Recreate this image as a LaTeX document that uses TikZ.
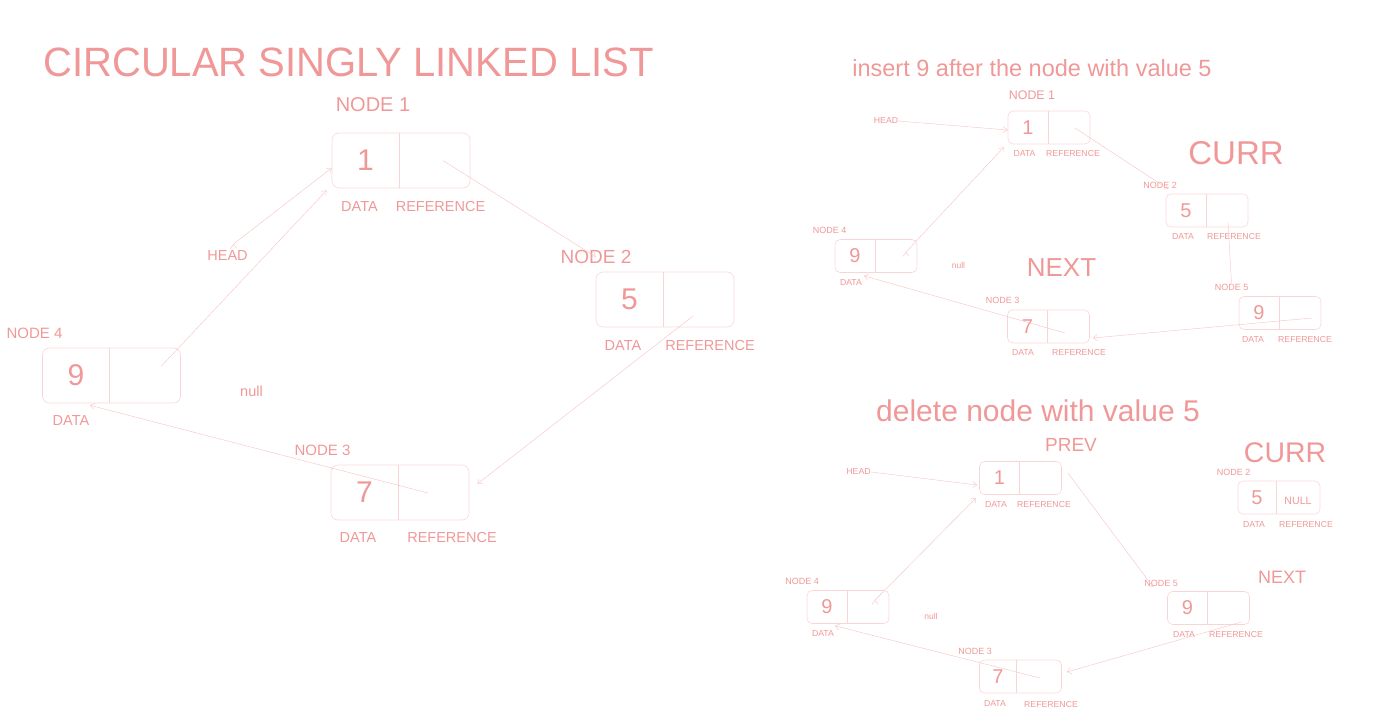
\documentclass[tikz,border=0pt]{standalone}
\usepackage{fontspec}
\setmainfont{Liberation Sans}
\usetikzlibrary{arrows.meta,positioning}
\definecolor{txtc}{RGB}{240,152,152}
\definecolor{boxc}{RGB}{249,214,214}
\definecolor{linec}{RGB}{248,198,198}

\begin{document}
\begin{tikzpicture}[x=1pt,y=-1pt,
  fs/.style={font=\fontsize{#1}{#1}\selectfont},
  lbl/.style={text=txtc,inner sep=0pt},
  divider/.style={path picture={\draw[boxc,line width=.6pt]
      ([xshift=#1]path picture bounding box.north west) --
      ([xshift=#1]path picture bounding box.south west);}},
  bigbox/.style={draw=boxc,line width=.6pt,rounded corners=7pt,
    minimum width=138pt,minimum height=55pt,inner sep=0pt,
    text=txtc,fs=30,divider=67pt},
  smallbox/.style={draw=boxc,line width=.6pt,rounded corners=5pt,
    minimum width=82pt,minimum height=33pt,inner sep=0pt,
    text=txtc,fs=20,divider=#1},
  smallbox/.default=40pt,
  link/.style={draw=linec,line width=.45pt,-{Straight Barb[length=4pt,width=6pt]}}]
  \useasboundingbox (0,0) rectangle (1389,727);

  % circular singly linked list
  \node[lbl,fs=41,xscale=.975] (title) at (348.5,62.5) {CIRCULAR SINGLY LINKED LIST};
  \node[bigbox] (a1) at (401,160.5) {\makebox[67pt]{1}\makebox[71pt]{}};
  \node[bigbox] (a2) at (665,299.5) {\makebox[67pt]{5}\makebox[71pt]{}};
  \node[bigbox] (a4) at (111.5,375.5) {\makebox[67pt]{9}\makebox[71pt]{}};
  \node[bigbox] (a3) at (400,492.5) {\makebox[67pt]{7}\makebox[71pt]{}};
  \node[lbl,fs=20] (a1n) at (373,105) {NODE 1};
  \node[lbl,fs=19] (a2n) at (596,257) {NODE 2};
  \node[lbl,fs=15] (a4n) at (34.5,333) {NODE 4};
  \node[lbl,fs=15] (a3n) at (322.5,450) {NODE 3};
  \node[lbl,fs=14.5] (a1d) at (359.5,207) {DATA};
  \node[lbl,fs=14.5] (a1r) at (440.5,207) {REFERENCE};
  \node[lbl,fs=14.5] (a2d) at (623,346) {DATA};
  \node[lbl,fs=14.5] (a2r) at (710,346) {REFERENCE};
  \node[lbl,fs=14.5] (a4d) at (71,421) {DATA};
  \node[lbl,fs=14.5] (a3d) at (358,538) {DATA};
  \node[lbl,fs=14.5] (a3r) at (452,538) {REFERENCE};
  \node[lbl,fs=14.5] (ahead) at (227.5,256) {HEAD};
  \node[lbl,fs=14.5] (anull) at (251.5,391) {null};
  \path[link]
  ([shift={(42,0)}]a1.center) edge (a2n.center)
  ([shift={(28,16.5)}]a2.center) edge ([shift={(8,-8.5)}]a3.east)
  ([shift={(28,0.5)}]a3.center) edge ([shift={(-21.5,2)}]a4.south)
  ([shift={(50,-9.5)}]a4.center) edge ([shift={(-5,2)}]a1.south west)
  ([shift={(6,-12)}]ahead.center) edge ([shift={(0,7.5)}]a1.west);

  % insert 9 after the node with value 5
  \node[lbl,fs=23.5] (ins) at (1032,68) {insert 9 after the node with value 5};
  \node[smallbox] (t1) at (1049,127.5) {\makebox[40pt]{1}\makebox[42pt]{}};
  \node[smallbox] (t2) at (1207,210.5) {\makebox[40pt]{5}\makebox[42pt]{}};
  \node[smallbox] (t4) at (876,256) {\makebox[40pt]{9}\makebox[42pt]{}};
  \node[smallbox] (t5) at (1280,313) {\makebox[40pt]{9}\makebox[42pt]{}};
  \node[smallbox] (t3) at (1048.5,326.5) {\makebox[40pt]{7}\makebox[42pt]{}};
  \node[lbl,fs=12.4] (t1n) at (1032,95) {NODE 1};
  \node[lbl,fs=9] (t2n) at (1160,185) {NODE 2};
  \node[lbl,fs=9] (t4n) at (829.5,230) {NODE 4};
  \node[lbl,fs=9] (t5n) at (1231.5,287) {NODE 5};
  \node[lbl,fs=9] (t3n) at (1002.5,300) {NODE 3};
  \node[lbl,fs=8.7] (t1d) at (1024.5,154) {DATA};
  \node[lbl,fs=8.7] (t1r) at (1073,154) {REFERENCE};
  \node[lbl,fs=8.7] (t2d) at (1183,237) {DATA};
  \node[lbl,fs=8.7] (t2r) at (1234,237) {REFERENCE};
  \node[lbl,fs=8.7] (t4d) at (851,283) {DATA};
  \node[lbl,fs=8.7] (t5d) at (1253,340) {DATA};
  \node[lbl,fs=8.7] (t5r) at (1305,340) {REFERENCE};
  \node[lbl,fs=8.7] (t3d) at (1023,353) {DATA};
  \node[lbl,fs=8.7] (t3r) at (1079,353) {REFERENCE};
  \node[lbl,fs=8.7] (thead) at (886,121) {HEAD};
  \node[lbl,fs=8.5] (tnull) at (958.5,265) {null};
  \node[lbl,fs=33] (tcurr) at (1236,153) {CURR};
  \node[lbl,fs=26] (tnext) at (1061.5,268) {NEXT};
  \path[link]
  (thead.east) edge ([shift={(0,2.5)}]t1.west)
  ([shift={(26,0.5)}]t1.center) edge ([shift={(8,4)}]t2n.center)
  ([shift={(21,12)}]t2.center) edge[-] (t5n.north)
  ([shift={(32,5)}]t5.center) edge ([shift={(3,11.5)}]t3.east)
  ([shift={(16.5,6.5)}]t3.center) edge ([shift={(-12,3)}]t4.south)
  ([shift={(30,-4)}]t4.center) edge ([shift={(-4,3)}]t1.south west);

  % delete node with value 5
  \node[lbl,fs=30] (del) at (1038,411) {delete node with value 5};
  \node[smallbox] (d1) at (1020.5,478) {\makebox[40pt]{1}\makebox[42pt]{}};
  \node[smallbox=38pt] (d2) at (1279,497.5) {\makebox[38pt]{5}\makebox[44pt]{\fontsize{10.6}{10.6}\selectfont NULL}};
  \node[smallbox] (d5) at (1208.5,608) {\makebox[40pt]{9}\makebox[42pt]{}};
  \node[smallbox] (d4) at (848,607) {\makebox[40pt]{9}\makebox[42pt]{}};
  \node[smallbox=37pt] (d3) at (1020.5,676.5) {\makebox[37pt]{7}\makebox[45pt]{}};
  \node[lbl,fs=9] (d2n) at (1233.5,472) {NODE 2};
  \node[lbl,fs=9] (d5n) at (1161,583) {NODE 5};
  \node[lbl,fs=9] (d4n) at (802,581) {NODE 4};
  \node[lbl,fs=9] (d3n) at (975,651) {NODE 3};
  \node[lbl,fs=8.7] (d1d) at (996,505) {DATA};
  \node[lbl,fs=8.7] (d1r) at (1044,505) {REFERENCE};
  \node[lbl,fs=8.7] (d2d) at (1254,525) {DATA};
  \node[lbl,fs=8.7] (d2r) at (1306,525) {REFERENCE};
  \node[lbl,fs=8.7] (d5d) at (1184,635) {DATA};
  \node[lbl,fs=8.7] (d5r) at (1236,635) {REFERENCE};
  \node[lbl,fs=8.7] (d4d) at (823,634) {DATA};
  \node[lbl,fs=8.7] (d3d) at (995,704) {DATA};
  \node[lbl,fs=8.7] (d3r) at (1051,704) {REFERENCE};
  \node[lbl,fs=8.7] (dhead) at (858.5,472) {HEAD};
  \node[lbl,fs=8.5] (dnull) at (931,616) {null};
  \node[lbl,fs=19] (dprev) at (1071,445) {PREV};
  \node[lbl,fs=28.4] (dcurr) at (1285,453) {CURR};
  \node[lbl,fs=18] (dnext) at (1282,577) {NEXT};
  \path[link]
  (dhead.east) edge ([shift={(-2,7)}]d1.west)
  ([shift={(47.5,-5)}]d1.center) edge ([shift={(-14,-4)}]d5.north west)
  ([shift={(33,14)}]d5.center) edge ([shift={(5,-4.5)}]d3.east)
  ([shift={(19.5,1.5)}]d3.center) edge ([shift={(-13,2)}]d4.south)
  ([shift={(27,-7)}]d4.center) edge ([shift={(-3,3)}]d1.south west);
\end{tikzpicture}
\end{document}
